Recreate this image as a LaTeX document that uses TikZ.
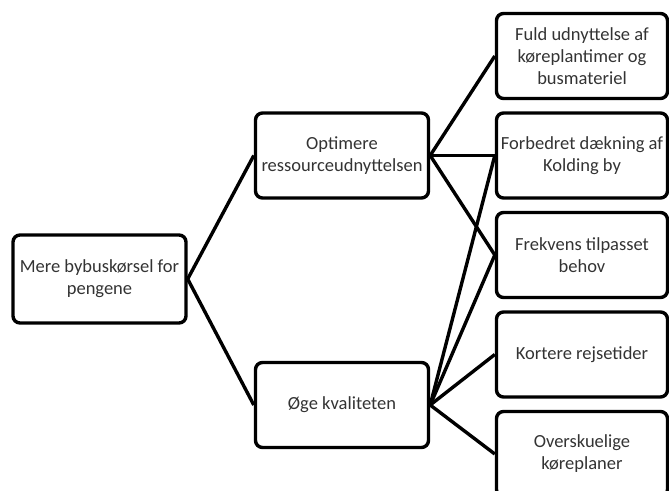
\documentclass[tikz,border=0pt]{standalone}
\usepackage{fontspec}
\setmainfont{Carlito}
\usetikzlibrary{positioning}

\begin{document}
\begin{tikzpicture}[node distance=99.5pt,on grid,
    maal/.style={draw,rounded corners=7pt,line width=3.4pt,minimum width=171pt,
      minimum height=85pt,align=center,inner sep=0pt,text=black!80,
      font=\fontsize{18.5}{22}\selectfont},
    forbind/.style={line width=3.4pt}]
		\clip (-582pt,-334.5pt) rectangle (87pt,155.5pt);
		\node[maal](r2) {Forbedret dækning af\\Kolding by};
		\node[maal](r1)[above of=r2] {Fuld udnyttelse af\\køreplantimer og\\busmateriel};
		\node[maal](r3)[below of=r2] {Frekvens tilpasset\\behov};
		\node[maal](r4)[below of=r3] {Kortere rejsetider};
		\node[maal](r5)[below of=r4] {Overskuelige\\køreplaner};
		\node[maal,minimum width=173pt](opt)[left=240pt of r2] {Optimere\\ressourceudnyttelsen};
		\node[maal,minimum width=173pt](oge)[below=249.5pt of opt] {Øge kvaliteten};
		\node[maal,minimum width=173pt,minimum height=88pt](mere)[below left=123.5pt and 242.5pt of opt] {Mere bybuskørsel for\\pengene};
		\path[forbind]
		(mere.east) edge (opt.west)
		(mere.east) edge (oge.west)
		(opt.east) edge (r1.west)
		(opt.east) edge (r2.west)
		(opt.east) edge (r3.west)
		(oge.east) edge (r2.west)
		(oge.east) edge (r3.west)
		(oge.east) edge (r4.west)
		(oge.east) edge (r5.west);
\end{tikzpicture}
\end{document}
